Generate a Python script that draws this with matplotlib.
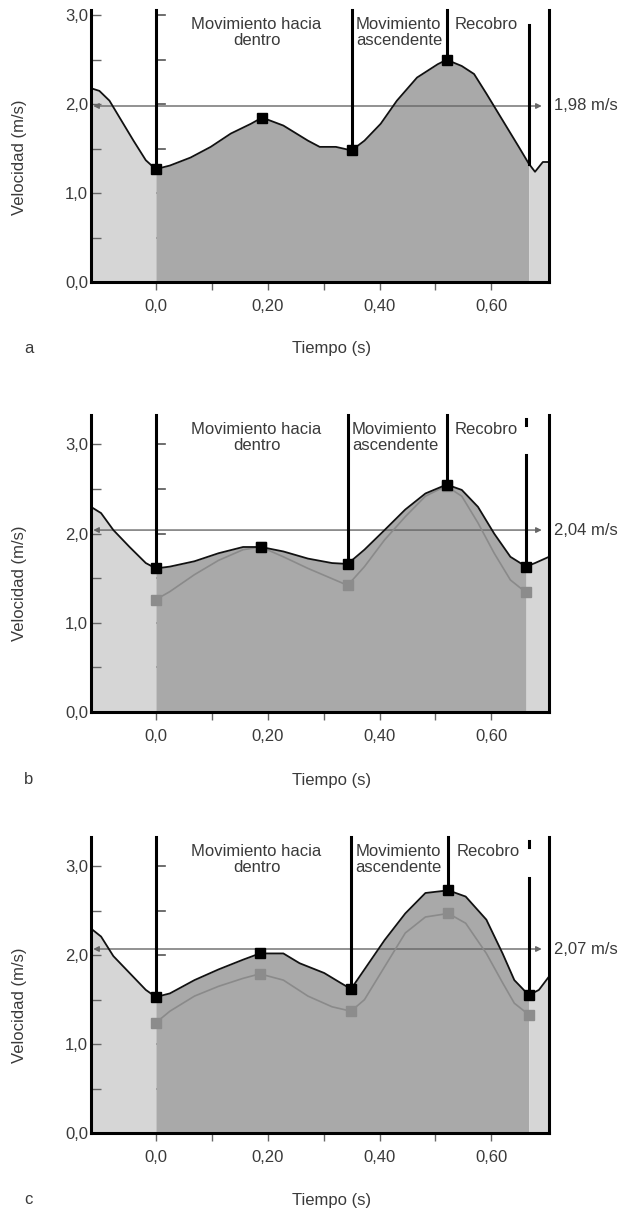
import numpy as np
import matplotlib
matplotlib.use("Agg")
import matplotlib.pyplot as plt
import matplotlib.transforms as mtransforms

plt.rcParams['font.family'] = ['Liberation Sans', 'DejaVu Sans']

# ---- data ----
# panel a
ta = [-0.116, -0.101, -0.083, -0.062, -0.04, -0.018, -0.004, 0.0, 0.025, 0.062,
      0.098, 0.134, 0.17, 0.19, 0.228, 0.272, 0.293, 0.322, 0.35, 0.373, 0.402,
      0.431, 0.467, 0.504, 0.52, 0.547, 0.569, 0.591, 0.62, 0.649, 0.667, 0.678,
      0.692, 0.703]
va = [2.18, 2.15, 2.04, 1.82, 1.59, 1.37, 1.29, 1.27, 1.31, 1.40, 1.52, 1.67,
      1.78, 1.85, 1.76, 1.59, 1.52, 1.52, 1.48, 1.59, 1.78, 2.04, 2.30, 2.45,
      2.50, 2.43, 2.34, 2.12, 1.82, 1.52, 1.33, 1.24, 1.35, 1.35]
mark_ta = [0.0, 0.19, 0.35, 0.52]
mark_va = [1.27, 1.85, 1.48, 2.50]

# panel b
tb = [-0.116, -0.098, -0.076, -0.047, -0.018, 0.0, 0.025, 0.069, 0.112, 0.156,
      0.188, 0.228, 0.272, 0.315, 0.343, 0.373, 0.409, 0.446, 0.482, 0.52, 0.547,
      0.576, 0.605, 0.634, 0.662, 0.678, 0.703]
vb = [2.30, 2.23, 2.04, 1.85, 1.67, 1.61, 1.63, 1.69, 1.78, 1.85, 1.85, 1.80,
      1.72, 1.67, 1.66, 1.82, 2.04, 2.27, 2.45, 2.55, 2.49, 2.30, 2.00, 1.74,
      1.63, 1.67, 1.74]
tgb = [0.0, 0.025, 0.069, 0.112, 0.156, 0.188, 0.228, 0.272, 0.343, 0.373, 0.409,
       0.446, 0.482, 0.511, 0.52, 0.547, 0.576, 0.605, 0.634, 0.662]
vgb = [1.26, 1.35, 1.54, 1.70, 1.82, 1.85, 1.74, 1.61, 1.42, 1.63, 1.93, 2.19,
       2.42, 2.51, 2.53, 2.42, 2.12, 1.78, 1.48, 1.34]
mark_tb = [0.0, 0.188, 0.343, 0.52, 0.662]
mark_vb = [1.61, 1.85, 1.66, 2.55, 1.63]
gmark_vb = [1.26, 1.85, 1.42, 2.53, 1.34]

# panel c
tc = [-0.116, -0.098, -0.076, -0.047, -0.018, 0.0, 0.025, 0.069, 0.112, 0.156,
      0.186, 0.228, 0.257, 0.301, 0.33, 0.349, 0.373, 0.409, 0.446, 0.482, 0.523,
      0.554, 0.591, 0.62, 0.641, 0.667, 0.685, 0.703]
vc = [2.30, 2.21, 1.99, 1.80, 1.61, 1.53, 1.57, 1.72, 1.84, 1.95, 2.02, 2.02,
      1.91, 1.80, 1.69, 1.62, 1.84, 2.17, 2.47, 2.70, 2.73, 2.66, 2.40, 2.02,
      1.72, 1.55, 1.61, 1.76]
tgc = [0.0, 0.025, 0.069, 0.112, 0.156, 0.186, 0.228, 0.272, 0.315, 0.349, 0.373,
       0.409, 0.446, 0.482, 0.523, 0.554, 0.591, 0.62, 0.641, 0.667]
vgc = [1.24, 1.37, 1.54, 1.65, 1.74, 1.79, 1.72, 1.54, 1.42, 1.37, 1.50, 1.87,
       2.25, 2.43, 2.47, 2.36, 2.02, 1.69, 1.46, 1.33]
mark_tc = [0.0, 0.186, 0.349, 0.523, 0.667]
mark_vc = [1.53, 2.02, 1.62, 2.73, 1.55]
gmark_vc = [1.24, 1.79, 1.37, 2.47, 1.33]

means = [1.98, 2.04, 2.07]
mean_labels = ["1,98 m/s", "2,04 m/s", "2,07 m/s"]
panel_names = ["a", "b", "c"]
phase_end = [0.667, 0.662, 0.667]      # end of the dark (stroke) region
recobro_top = [2.89, 2.88, 2.87]       # top of the short line at the end
ytops = [3.06, 3.33, 3.33]

xticks_major = [0.0, 0.2, 0.4, 0.6]
xtick_labels = ["0,0", "0,20", "0,40", "0,60"]
xticks_minor = [0.1, 0.3, 0.5]
yticks = [0.0, 1.0, 2.0, 3.0]
ytick_labels = ["0,0", "1,0", "2,0", "3,0"]
yticks_minor = [0.5, 1.5, 2.5]

xmin, xmax = -0.116, 0.703

LIGHT = "#d6d6d6"
DARK = "#a9a9a9"
GRAYLINE = "#8a8a8a"
GRAYMARK = "#8c8c8c"
TXT = "#3a3a3a"
FS = 12

W, H = 633, 1209
fig = plt.figure(figsize=(W / 100, H / 100), dpi=100)

# axes boxes in pixels: (left, right, top, bottom)
boxes = [(91, 549, 10, 282), (91, 549, 415, 712), (91, 549, 837, 1133)]
label_rows = [348, 780, 1200]
ylabel_rows = [157, 583, 1005]

panels = [
    (ta, va, None, None, mark_ta, mark_va, None),
    (tb, vb, tgb, vgb, mark_tb, mark_vb, gmark_vb),
    (tc, vc, tgc, vgc, mark_tc, mark_vc, gmark_vc),
]

for i, (t, v, tg, vg, mt, mv, gmv) in enumerate(panels):
    l, r, tp, bt = boxes[i]
    ax = fig.add_axes([l / W, (H - bt) / H, (r - l) / W, (bt - tp) / H])
    t = np.array(t)
    v = np.array(v)
    te = phase_end[i]
    ytop = ytops[i]

    # filled regions
    m1 = t <= 0
    m2 = (t >= 0) & (t <= te)
    m3 = t >= te
    ax.fill_between(t[m1], 0, v[m1], color=LIGHT, lw=0, zorder=1)
    ax.fill_between(t[m2], 0, v[m2], color=DARK, lw=0, zorder=1)
    ax.fill_between(t[m3], 0, v[m3], color=LIGHT, lw=0, zorder=1)

    # small ticks along the t = 0 line
    for yy in yticks + yticks_minor:
        ax.plot([0, 0.017], [yy, yy], color="#555555", lw=1.2, zorder=0.5)

    # mean velocity
    ax.annotate("", xy=(0.69, means[i]), xytext=(xmin + 0.004, means[i]),
                arrowprops=dict(arrowstyle="<|-|>", color="#666666", lw=1,
                                mutation_scale=8, shrinkA=0, shrinkB=0),
                zorder=3)
    trans = mtransforms.blended_transform_factory(ax.transAxes, ax.transData)
    ax.text(1.01, means[i], mean_labels[i], transform=trans, ha="left",
            va="center", fontsize=FS, color=TXT)

    # curves
    if tg is not None:
        ax.plot(tg, vg, color=GRAYLINE, lw=1.2, zorder=4)
        ax.plot(mt, gmv, ls="none", marker="s", ms=7, color=GRAYMARK,
                zorder=5)
    ax.plot(t, v, color="#111111", lw=1.3, zorder=6)

    # phase lines
    for k, (x0, y0) in enumerate(zip(mt, mv)):
        if abs(x0 - te) < 0.01:
            continue
        if k == 1:
            continue
        ax.plot([x0, x0], [y0, ytop], color="black", lw=2.2, zorder=7,
                clip_on=False)
    y_end = float(np.interp(te, t, v))
    ax.plot([te, te], [y_end, recobro_top[i]], color="black", lw=2.2,
            zorder=7)
    if i > 0:
        ax.plot([te, te], [3.22, 3.29], color="black", lw=2.2, zorder=7)
    ax.plot(mt, mv, ls="none", marker="s", ms=7.5, color="black", zorder=8)

    # phase names
    ax.annotate("Movimiento hacia\ndentro", xy=(0.18, 1),
                xycoords=("data", "axes fraction"), xytext=(0, -5),
                textcoords="offset points", ha="center", va="top",
                fontsize=FS, color=TXT, linespacing=1.1)
    ax.annotate("Movimiento\nascendente", xy=(mt[2], 1),
                xycoords=("data", "axes fraction"), xytext=(3, -5),
                textcoords="offset points", ha="left", va="top",
                fontsize=FS, color=TXT, linespacing=1.1)
    ax.annotate("Recobro", xy=(mt[3], 1),
                xycoords=("data", "axes fraction"), xytext=(6, -5),
                textcoords="offset points", ha="left", va="top",
                fontsize=FS, color=TXT)

    ax.set_xlim(xmin, xmax)
    ax.set_ylim(0, ytop)
    ax.set_xticks(xticks_major)
    ax.set_xticklabels(xtick_labels)
    ax.set_xticks(xticks_minor, minor=True)
    ax.set_yticks(yticks)
    ax.set_yticklabels(ytick_labels)
    ax.set_yticks(yticks_minor, minor=True)
    ax.tick_params(axis="x", which="both", direction="out", length=6,
                   width=1, color="#666666", labelsize=FS, labelcolor=TXT,
                   pad=6)
    ax.tick_params(axis="y", which="both", direction="in", length=7,
                   width=1, color="#666666", labelsize=FS, labelcolor=TXT,
                   pad=2)
    ax.spines["top"].set_visible(False)
    for s in ["left", "right", "bottom"]:
        ax.spines[s].set_linewidth(2.2)
        ax.spines[s].set_color("black")
        ax.spines[s].set_zorder(9)
    ax.set_facecolor("none")

    fig.text(24 / W, 1 - label_rows[i] / H, panel_names[i], fontsize=FS,
             color=TXT, ha="left", va="center")
    fig.text(332 / W, 1 - label_rows[i] / H, "Tiempo (s)", fontsize=FS,
             color=TXT, ha="center", va="center")
    fig.text(20 / W, 1 - ylabel_rows[i] / H, "Velocidad (m/s)", fontsize=FS,
             color=TXT, ha="center", va="center", rotation=90)

fig.savefig("out.png", dpi=100)
